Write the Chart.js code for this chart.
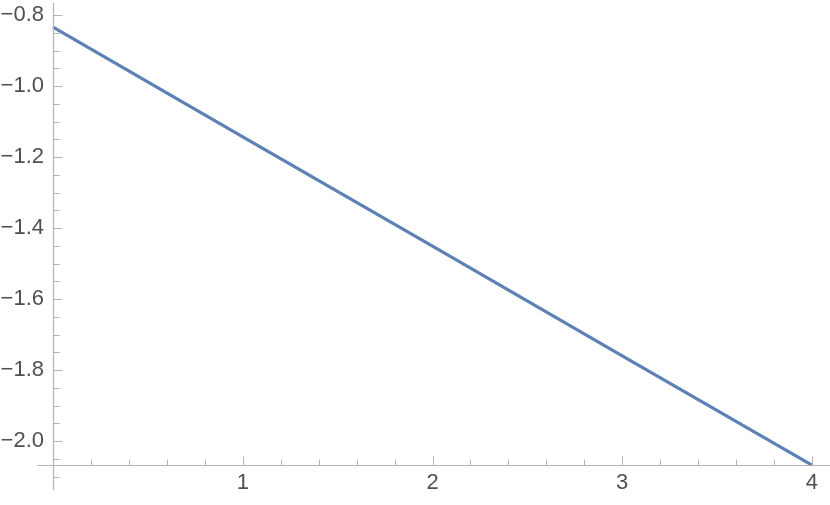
<!DOCTYPE html>
<html>
<head>
<meta charset="utf-8">
<script src="https://cdn.jsdelivr.net/npm/chart.js@4"></script>
<style>
  html, body { margin: 0; padding: 0; background: #ffffff; }
  #wrap { width: 830px; height: 505px; position: relative; }
</style>
</head>
<body>
<div id="wrap"><canvas id="c" width="830" height="505"></canvas></div>
<script>
// Data
const xValues = [0, 1, 2, 3, 4];
const yValues = [-0.834, -1.143, -1.451, -1.760, -2.068];
const xMajorTicks = [1, 2, 3, 4];
const yMajorTicks = [-0.8, -1.0, -1.2, -1.4, -1.6, -1.8, -2.0];
const xMinorStep = 0.2;
const yMinorStep = 0.05;
const axisCrossY = -2.0676;
const axisCrossX = 0;

const axisColor = '#b4b4b4';
const labelColor = '#505050';
const lineColor = '#5e81b5';

function fmtMinus(v, digits) {
  const s = digits === undefined ? String(v) : Number(v).toFixed(digits);
  return s.replace('-', '\u2212');
}

function noPad(scale) {
  scale.paddingTop = 0; scale.paddingBottom = 0;
  scale.paddingLeft = 0; scale.paddingRight = 0;
}

const axesPlugin = {
  id: 'mmaAxes',
  afterDraw(chart) {
    const ctx = chart.ctx;
    const area = chart.chartArea;
    const xs = chart.scales.x, ys = chart.scales.y;
    const x0 = Math.round(xs.getPixelForValue(axisCrossX)) + 0.5;
    const y0 = Math.round(ys.getPixelForValue(axisCrossY)) + 0.5;
    ctx.save();
    ctx.strokeStyle = axisColor;
    ctx.lineWidth = 1.2;
    // axis lines
    ctx.beginPath();
    ctx.moveTo(area.left, y0); ctx.lineTo(area.right, y0);
    ctx.moveTo(x0, area.top); ctx.lineTo(x0, area.bottom);
    ctx.stroke();
    ctx.lineWidth = 1;
    // x-axis ticks (upwards)
    for (let v = Math.ceil(xs.min / xMinorStep) * xMinorStep; v <= xs.max + 1e-9; v += xMinorStep) {
      const r = Math.round(v * 1000) / 1000;
      if (Math.abs(r) < 1e-9) continue;
      const isMajor = xMajorTicks.some(t => Math.abs(t - r) < 1e-6);
      const px = Math.round(xs.getPixelForValue(r)) + 0.5;
      const len = isMajor ? 9 : 6;
      ctx.beginPath();
      ctx.moveTo(px, y0);
      ctx.lineTo(px, y0 - len);
      ctx.stroke();
    }
    // y-axis ticks (rightwards)
    for (let v = Math.ceil(ys.min / yMinorStep) * yMinorStep; v <= ys.max + 1e-9; v += yMinorStep) {
      const r = Math.round(v * 1000) / 1000;
      const isMajor = yMajorTicks.some(t => Math.abs(t - r) < 1e-6);
      const py = Math.round(ys.getPixelForValue(r)) + 0.5;
      const len = isMajor ? 9 : 6;
      ctx.beginPath();
      ctx.moveTo(x0, py);
      ctx.lineTo(x0 + len, py);
      ctx.stroke();
    }
    ctx.restore();
  }
};

new Chart(document.getElementById('c'), {
  type: 'line',
  data: {
    datasets: [{
      data: xValues.map((x, i) => ({ x: x, y: yValues[i] })),
      borderColor: lineColor,
      borderWidth: 3.2,
      pointRadius: 0,
      fill: false,
      tension: 0
    }]
  },
  options: {
    responsive: false,
    animation: false,
    devicePixelRatio: 1,
    layout: { padding: { left: 37, right: 0, top: 3, bottom: 15 } },
    plugins: { legend: { display: false }, tooltip: { enabled: false } },
    scales: {
      x: {
        type: 'linear',
        position: { y: axisCrossY },
        min: -0.0845,
        max: 4.095,
        afterBuildTicks(scale) { scale.ticks = xMajorTicks.map(v => ({ value: v })); },
        afterFit: noPad,
        grid: { display: false, drawTicks: false },
        border: { display: false },
        ticks: {
          color: labelColor,
          font: { family: 'Liberation Sans, Arial, sans-serif', size: 22 },
          padding: 5,
          maxRotation: 0,
          autoSkip: false,
          callback: v => fmtMinus(v)
        }
      },
      y: {
        type: 'linear',
        // labels are right-aligned at this position, 9px left of the y-axis line
        position: { x: -9 / 189.5 },
        min: -2.138,
        max: -0.7662,
        afterBuildTicks(scale) { scale.ticks = yMajorTicks.map(v => ({ value: v })); },
        afterFit: noPad,
        grid: { display: false, drawTicks: false },
        border: { display: false },
        ticks: {
          color: labelColor,
          font: { family: 'Liberation Sans, Arial, sans-serif', size: 22 },
          autoSkip: false,
          callback: v => fmtMinus(v, 1)
        }
      }
    }
  },
  plugins: [axesPlugin]
});
</script>
</body>
</html>
